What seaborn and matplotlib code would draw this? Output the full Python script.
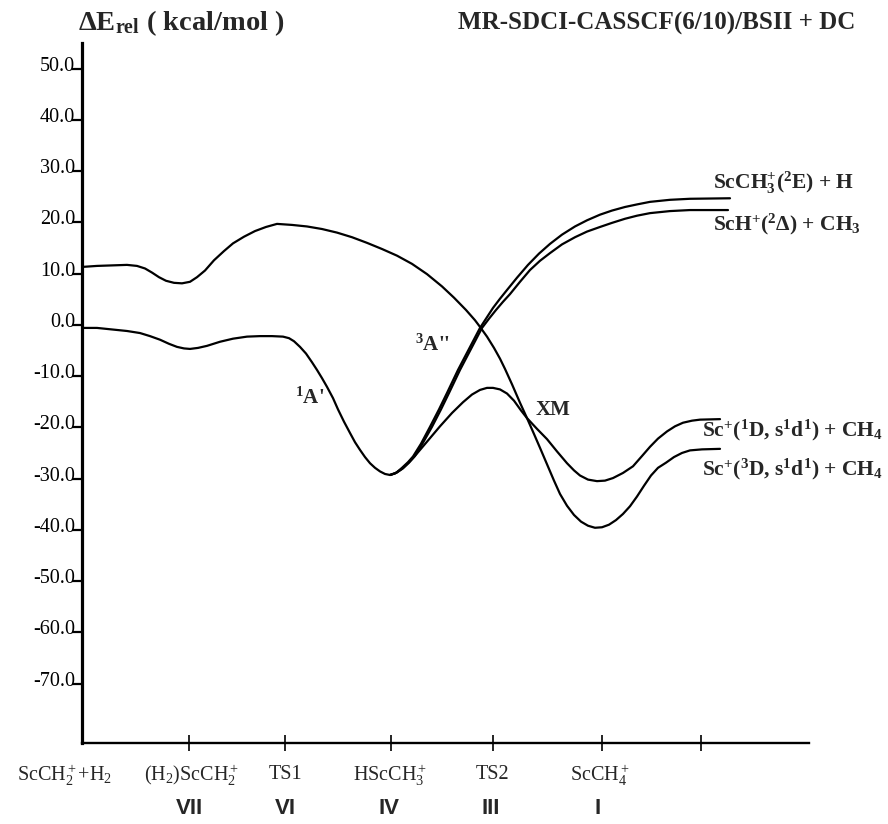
import numpy as np
import pandas as pd
import matplotlib
matplotlib.use("Agg")
import matplotlib.pyplot as plt
import seaborn as sns
from matplotlib.transforms import ScaledTranslation, blended_transform_factory

sns.set_theme(style="white")
plt.rcParams["font.family"] = ["Liberation Serif", "DejaVu Serif"]
plt.rcParams["mathtext.fontset"] = "custom"
plt.rcParams["mathtext.rm"] = "Liberation Serif"
plt.rcParams["mathtext.it"] = "Liberation Serif:italic"
plt.rcParams["mathtext.bf"] = "Liberation Serif:bold"
plt.rcParams["axes.unicode_minus"] = False

# ---------------- data (reaction coordinate, kcal/mol) ----------------
triplet_x = [0.00, 0.15, 0.30, 0.45, 0.55, 0.63, 0.70, 0.77, 0.84, 0.92, 1.00, 1.08,
             1.15, 1.23, 1.32, 1.42, 1.51, 1.62, 1.73, 1.84, 1.95, 2.10, 2.25, 2.40,
             2.55, 2.70, 2.85, 3.00, 3.15, 3.30, 3.45, 3.60, 3.72, 3.84, 3.93, 3.98,
             4.05, 4.12, 4.18, 4.23, 4.30, 4.38, 4.45, 4.52, 4.58, 4.65, 4.72, 4.78,
             4.85, 4.92, 4.99, 5.06, 5.13, 5.20, 5.27, 5.34, 5.41, 5.48, 5.55, 5.62,
             5.69, 5.76, 5.84, 5.92, 6.00, 6.08, 6.20, 6.38]
triplet_e = [11.3, 11.5, 11.6, 11.7, 11.5, 11.0, 10.2, 9.3, 8.6, 8.2, 8.1, 8.4,
             9.3, 10.6, 12.6, 14.4, 15.9, 17.2, 18.3, 19.1, 19.7, 19.5, 19.2, 18.7,
             18.0, 17.1, 16.0, 14.8, 13.5, 11.9, 9.9, 7.5, 5.3, 2.9, 0.9, -0.4,
             -2.3, -4.5, -6.6, -8.6, -11.6, -15.2, -18.2, -21.3, -24.0, -27.2, -30.4, -33.0,
             -35.3, -37.1, -38.4, -39.2, -39.6, -39.5, -39.0, -38.1, -36.9, -35.4, -33.5, -31.4,
             -29.4, -27.9, -26.9, -25.8, -25.0, -24.5, -24.3, -24.2]

singlet_x = [0.00, 0.15, 0.30, 0.45, 0.58, 0.68, 0.78, 0.87, 0.95, 1.02, 1.08, 1.16,
             1.25, 1.38, 1.51, 1.65, 1.78, 1.90, 2.01, 2.07, 2.12, 2.18, 2.24, 2.30,
             2.35, 2.40, 2.45, 2.51, 2.56, 2.62, 2.68, 2.73, 2.78, 2.83, 2.88, 2.93,
             2.98, 3.03, 3.08, 3.13, 3.20, 3.27, 3.35, 3.45, 3.58, 3.70, 3.81, 3.90,
             3.98, 4.05, 4.11, 4.18, 4.25, 4.32, 4.39, 4.45, 4.55, 4.65, 4.75, 4.85,
             4.92, 4.98, 5.06, 5.15, 5.23, 5.31, 5.41, 5.51, 5.60, 5.68, 5.76, 5.85,
             5.93, 6.01, 6.10, 6.18, 6.38]
singlet_e = [-0.6, -0.6, -0.9, -1.2, -1.6, -2.2, -2.9, -3.7, -4.3, -4.6, -4.7, -4.5,
             -4.1, -3.3, -2.7, -2.3, -2.2, -2.2, -2.3, -2.6, -3.2, -4.3, -5.6, -7.3,
             -8.8, -10.4, -12.1, -14.3, -16.5, -18.9, -21.1, -22.9, -24.4, -25.8, -27.0, -27.9,
             -28.6, -29.1, -29.3, -29.0, -28.1, -26.8, -25.1, -22.8, -19.8, -17.2, -15.1, -13.6,
             -12.7, -12.3, -12.3, -12.6, -13.4, -14.8, -16.7, -18.2, -20.3, -22.3, -24.7, -27.0,
             -28.4, -29.4, -30.2, -30.5, -30.4, -29.9, -28.9, -27.6, -25.6, -23.8, -22.2, -20.8,
             -19.8, -19.1, -18.7, -18.5, -18.4]

scch3_x = [3.08, 3.14, 3.20, 3.26, 3.31, 3.39, 3.48, 3.57, 3.65, 3.76, 3.87, 3.98,
           4.11, 4.18, 4.25, 4.35, 4.46, 4.57, 4.68, 4.80, 4.93, 5.05, 5.18, 5.30,
           5.43, 5.55, 5.68, 5.88, 6.08, 6.48]
scch3_e = [-29.3, -28.9, -27.9, -26.8, -25.7, -23.2, -19.9, -16.5, -13.3, -8.8, -4.7, -0.6,
           3.3, 5.1, 6.8, 9.2, 11.7, 13.9, 15.8, 17.6, 19.2, 20.4, 21.5, 22.3,
           23.0, 23.5, 24.0, 24.4, 24.6, 24.7]

sch_x = [3.08, 3.15, 3.21, 3.27, 3.33, 3.41, 3.50, 3.59, 3.67, 3.78, 3.89, 4.00,
         4.07, 4.14, 4.21, 4.28, 4.38, 4.48, 4.58, 4.68, 4.80, 4.93, 5.05, 5.18,
         5.30, 5.43, 5.55, 5.68, 5.88, 6.08, 6.46]
sch_e = [-29.3, -28.8, -28.0, -26.9, -25.6, -23.0, -19.9, -16.5, -13.3, -8.8, -4.7, -0.6,
         1.2, 2.9, 4.5, 6.0, 8.4, 10.7, 12.5, 14.0, 15.7, 17.1, 18.2, 19.1,
         19.9, 20.7, 21.3, 21.8, 22.2, 22.4, 22.4]

station_x = [1.07, 2.03, 3.09, 4.11, 5.20, 6.19]
species_x = [-0.17, 1.10, 2.03, 3.08, 4.10, 5.18]
species = [r"ScCH$_2^+$+H$_2$", r"(H$_2$)ScCH$_2^+$", "TS1", r"HScCH$_3^+$", "TS2", r"ScCH$_4^+$"]
roman_x = [1.07, 2.03, 3.07, 4.09, 5.16]
roman = ["VII", "VI", "IV", "III", "I"]
yticks = [50, 40, 30, 20, 10, 0, -10, -20, -30, -40, -50, -60, -70]

frames = []
for name, xs, es in [("3A''", triplet_x, triplet_e), ("1A'", singlet_x, singlet_e),
                     ("ScCH3+H", scch3_x, scch3_e), ("ScH+CH3", sch_x, sch_e)]:
    frames.append(pd.DataFrame({"coord": xs, "E": es, "curve": name}))
df = pd.concat(frames, ignore_index=True)

# ---------------- figure ----------------
fig = plt.figure(figsize=(8.88, 8.24), dpi=100)
ax = fig.add_axes([82 / 888, 1 - 743 / 824, 727 / 888, 700 / 824])

sns.lineplot(data=df, x="coord", y="E", units="curve", estimator=None, sort=False,
             color="black", linewidth=1.6, ax=ax, legend=False)
for ln in ax.get_lines():
    ln.set_solid_joinstyle("round")
    ln.set_solid_capstyle("round")

ax.set_xlim(0, 7.27)
ax.set_ylim(-81.6, 55.0)
ax.set_xlabel("")
ax.set_ylabel("")

for s in ["top", "right"]:
    ax.spines[s].set_visible(False)
ax.spines["left"].set_linewidth(2.3)
ax.spines["bottom"].set_linewidth(1.7)
ax.spines["left"].set_color("black")
ax.spines["bottom"].set_color("black")

ax.set_yticks(yticks, labels=[f"{v:.1f}" for v in yticks])
ax.tick_params(axis="y", direction="out", length=7.5, width=1.6, pad=-2.5,
               labelsize=14.5, colors="black", left=True)
off = ScaledTranslation(0, 5 / 100, fig.dpi_scale_trans)
for lab in ax.get_yticklabels():
    lab.set_transform(lab.get_transform() + off)

ax.set_xticks(station_x, labels=[""] * len(station_x))
ax.tick_params(axis="x", direction="inout", length=11.5, width=1.2, bottom=True,
               colors="black")

# axis title and method
ax.text(-0.0055, 1.0286, r"ΔE$_{\mathbf{rel}}$ ( kcal/mol )", transform=ax.transAxes,
        ha="left", va="center", fontsize=20.5, fontweight="bold")
ax.text(1.0633, 1.0286, "MR-SDCI-CASSCF(6/10)/BSII + DC", transform=ax.transAxes,
        ha="right", va="center", fontsize=18, fontweight="bold")

# asymptote labels
ax.text(6.31, 27.7, r"ScCH$_{\mathbf{3}}^{\mathbf{+}}$($^{\mathbf{2}}$E) + H",
        ha="left", va="center", fontsize=15.5, fontweight="bold")
ax.text(6.31, 19.7, r"ScH$^{\mathbf{+}}$($^{\mathbf{2}}$Δ) + CH$_{\mathbf{3}}$",
        ha="left", va="center", fontsize=15.5, fontweight="bold")
ax.text(6.20, -20.5, r"Sc$^{\mathbf{+}}$($^{\mathbf{1}}$D, s$^{\mathbf{1}}$d$^{\mathbf{1}}$) + CH$_{\mathbf{4}}$",
        ha="left", va="center", fontsize=15.5, fontweight="bold")
ax.text(6.20, -28.3, r"Sc$^{\mathbf{+}}$($^{\mathbf{3}}$D, s$^{\mathbf{1}}$d$^{\mathbf{1}}$) + CH$_{\mathbf{4}}$",
        ha="left", va="center", fontsize=15.5, fontweight="bold")

# state labels
ax.text(2.28, -14.3, r"$^{\mathbf{1}}$A'", ha="center", va="center", fontsize=15, fontweight="bold")
ax.text(3.51, -3.9, r"$^{\mathbf{3}}$A''", ha="center", va="center", fontsize=15, fontweight="bold")
ax.text(4.71, -16.6, "XM", ha="center", va="center", fontsize=15, fontweight="bold")

# species and structure labels below the axis
tr = blended_transform_factory(ax.transData, ax.transAxes)
for xv, lab in zip(species_x, species):
    ax.text(xv, -0.0457, lab, transform=tr, ha="center", va="center", fontsize=14.5)
for xv, lab in zip(roman_x, roman):
    ax.text(xv, -0.093, lab, transform=tr, ha="center", va="center", fontsize=16,
            fontweight="bold", family=["Liberation Sans", "DejaVu Sans"])

fig.savefig("out.png", dpi=100)
